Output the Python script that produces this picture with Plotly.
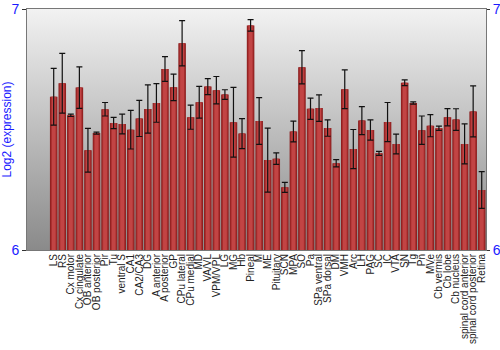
import base64
import plotly.graph_objects as go

regions = ["LS", "RS", "Cx motor", "Cx cingulate", "OB anterior", "OB posterior", "Pir", "Tu",
           "ventral S", "CA1", "CA2/CA3", "DG", "A anterior", "A posterior", "GP", "CPu lateral",
           "CPu medial", "MD", "VA/VL", "VPM/VPL", "LG", "MG", "Hb", "Pineal", "M", "ME",
           "Pituitary", "SCN", "MPA", "SO", "Pa", "SPa ventral", "SPa dorsal", "DM", "VMH", "Arc",
           "LH", "PAG", "SC", "IC", "VTA", "SN", "Tg", "Pn", "MVe", "Cb vermis", "Cb lobe",
           "Cb nucleus", "spinal cord anterior", "spinal cord posterior", "Retina"]

expression = [6.636, 6.692, 6.559, 6.674, 6.414, 6.485, 6.584, 6.527,
              6.523, 6.499, 6.546, 6.585, 6.610, 6.751, 6.675, 6.858,
              6.551, 6.613, 6.678, 6.663, 6.645, 6.530, 6.483, 6.932, 6.535, 6.373,
              6.379, 6.260, 6.492, 6.758, 6.586, 6.589, 6.506, 6.360, 6.667, 6.419,
              6.537, 6.498, 6.401, 6.531, 6.440, 6.694, 6.610, 6.497, 6.516, 6.505, 6.551,
              6.541, 6.440, 6.575, 6.249]

error = [0.118, 0.124, 0.005, 0.086, 0.091, 0.004, 0.028, 0.023,
         0.041, 0.080, 0.075, 0.100, 0.080, 0.051, 0.055, 0.094,
         0.050, 0.066, 0.033, 0.057, 0.020, 0.145, 0.062, 0.024, 0.097, 0.133,
         0.024, 0.021, 0.043, 0.069, 0.044, 0.055, 0.034, 0.015, 0.080, 0.081,
         0.058, 0.042, 0.008, 0.081, 0.041, 0.012, 0.005, 0.059, 0.046, 0.009, 0.036,
         0.045, 0.083, 0.106, 0.076]

y_range = [6, 7]
y_ticks = [6, 7]

FONT = "Liberation Sans, Arial, sans-serif"
BLUE = "#1a1aff"

svg = ('<svg xmlns="http://www.w3.org/2000/svg" width="100" height="100" preserveAspectRatio="none">'
       '<defs><linearGradient id="g" x1="0" y1="0" x2="0" y2="1">'
       '<stop offset="0" stop-color="#f2f2f2"/><stop offset="1" stop-color="#8a8a8a"/>'
       '</linearGradient></defs><rect width="100" height="100" fill="url(#g)"/></svg>')
bg_uri = "data:image/svg+xml;base64," + base64.b64encode(svg.encode()).decode()

fig = go.Figure()
layers = [(0.88, "#8a1d1d"), (0.7, "#a52c2c"), (0.45, "#c24444")]
for i, (w, c) in enumerate(layers):
    last = i == len(layers) - 1
    fig.add_trace(go.Bar(
        x=regions, y=expression, width=w,
        marker=dict(color=c, line=dict(width=0)),
        error_y=dict(type="data", array=error, visible=True, color="#111111",
                     thickness=1.2, width=3) if last else None,
        showlegend=False, hoverinfo="skip",
    ))

fig.add_trace(go.Scatter(x=[regions[0]], y=[6.5], yaxis="y2", mode="markers",
                         marker=dict(opacity=0), showlegend=False, hoverinfo="skip"))

fig.update_layout(
    width=500, height=350,
    margin=dict(l=27, r=14, t=9, b=100, pad=0),
    paper_bgcolor="white",
    plot_bgcolor="rgba(0,0,0,0)",
    barmode="overlay",
    font=dict(family=FONT, size=10, color="#222222"),
    images=[dict(source=bg_uri, xref="paper", yref="paper", x=0, y=1, sizex=1, sizey=1,
                 sizing="stretch", layer="below", xanchor="left", yanchor="top")],
    xaxis=dict(
        tickmode="array", tickvals=regions, ticktext=regions,
        tickangle=-90, tickfont=dict(family=FONT, size=10, color="#222222"),
        showgrid=False, showline=True, linecolor="#777777", linewidth=1, mirror=True,
        ticks="", ticklen=0, automargin=False, ticklabelstandoff=-1,
    ),
    yaxis=dict(
        range=y_range, tickvals=y_ticks, showgrid=False, zeroline=False,
        showline=True, linecolor="#777777", linewidth=1,
        ticks="outside", ticklen=4, tickcolor="#333333",
        tickfont=dict(family=FONT, size=14, color=BLUE),
        title=dict(text="Log2 (expression)", font=dict(family=FONT, size=12, color=BLUE), standoff=4),
        automargin=False,
    ),
    yaxis2=dict(
        range=y_range, tickvals=y_ticks, overlaying="y", side="right", showgrid=False,
        zeroline=False, showline=True, linecolor="#777777", linewidth=1,
        ticks="outside", ticklen=3, tickcolor="#333333",
        tickfont=dict(family=FONT, size=14, color=BLUE), automargin=False,
    ),
)

fig.write_html("out.html")
